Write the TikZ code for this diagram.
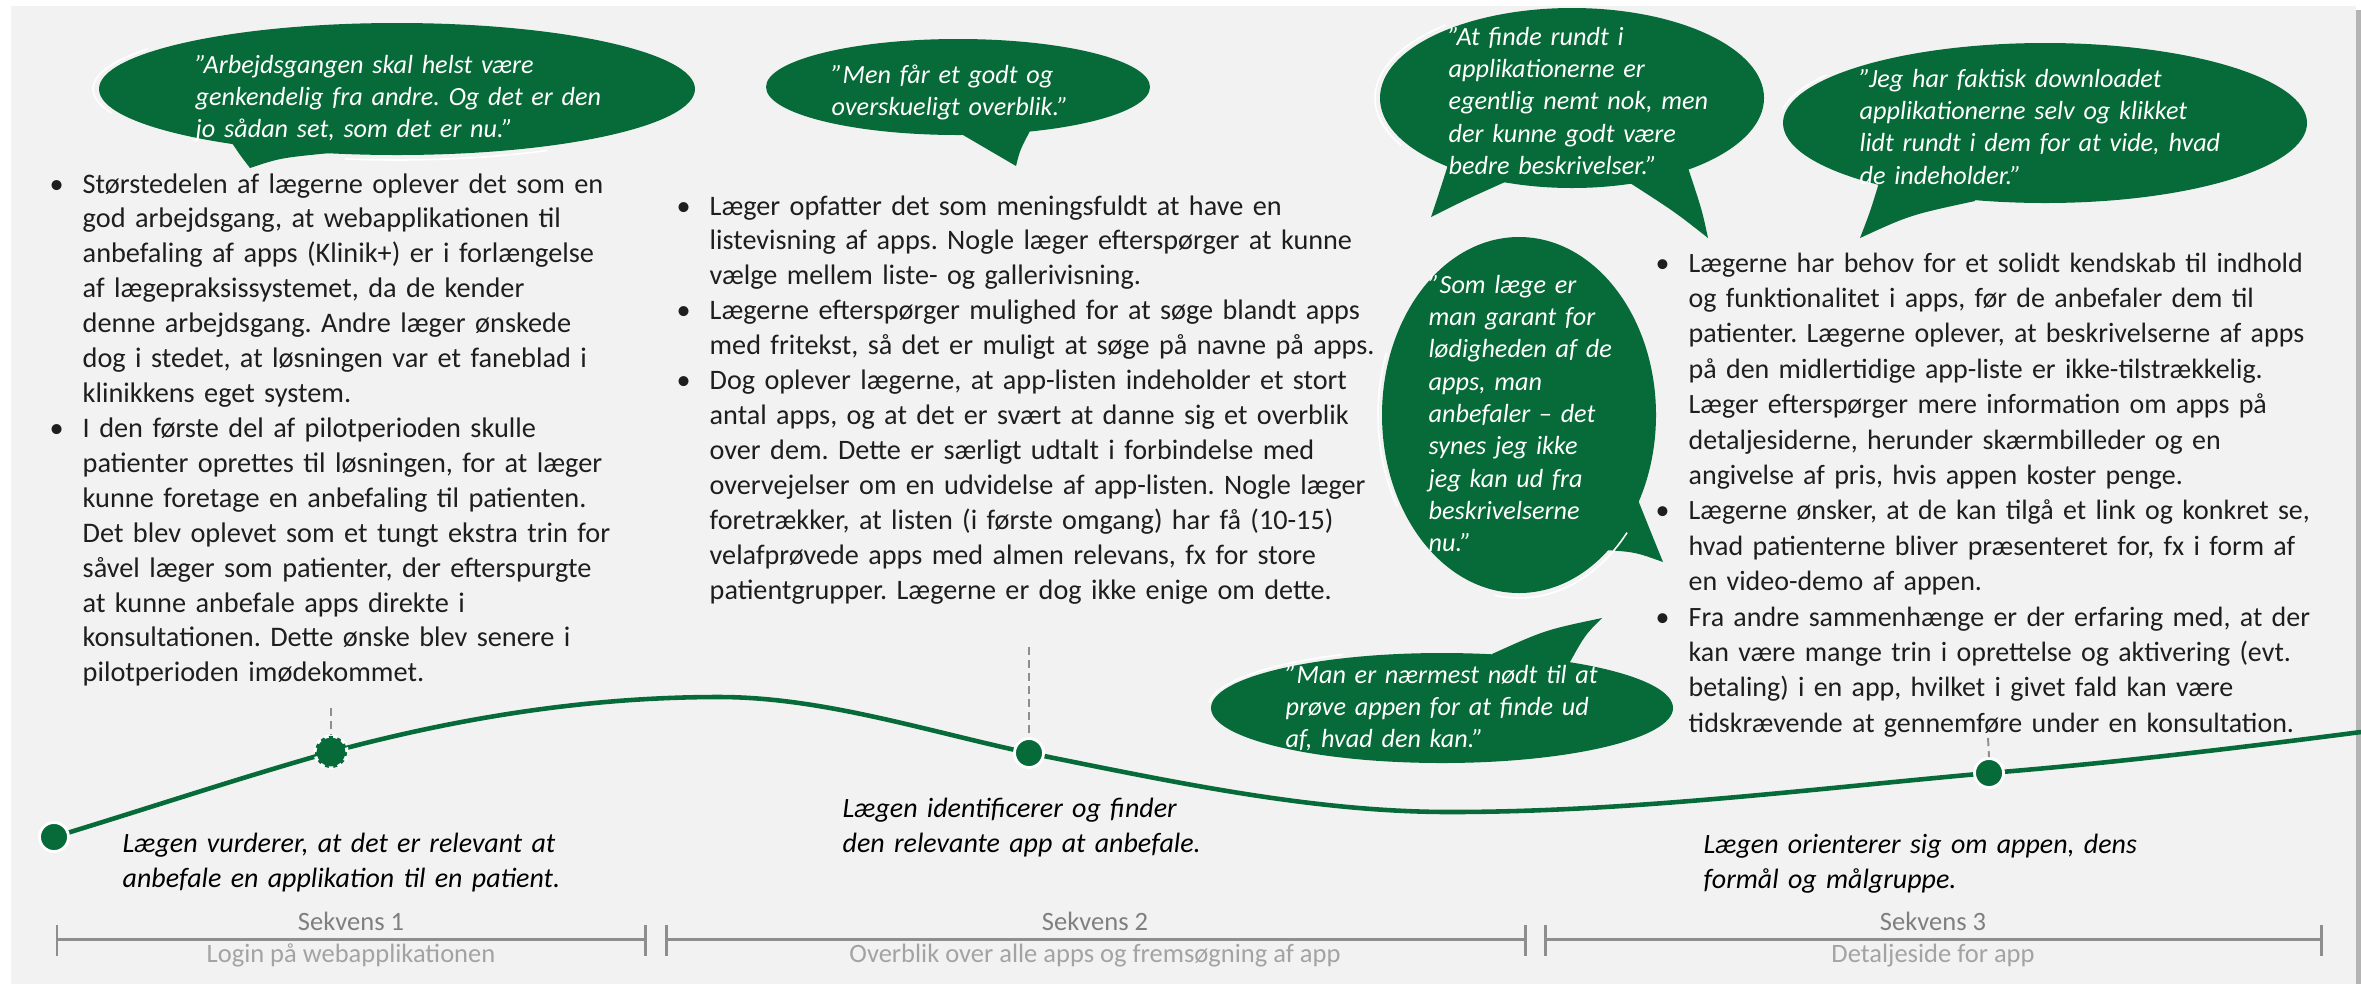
\documentclass[tikz,border=0pt]{standalone}
\usepackage{fontspec}
\setmainfont{Carlito}
\usetikzlibrary{calc}
\definecolor{bggray}{HTML}{F2F2F2}
\definecolor{leaf}{HTML}{066B38}
\definecolor{ink}{HTML}{1E1E1E}
\definecolor{seqdark}{HTML}{7F7F7F}
\definecolor{seqlight}{HTML}{A3A3A3}
\definecolor{rulegray}{HTML}{8E8E8E}
\definecolor{edgeshade}{HTML}{B4B4B4}
\frenchspacing
\newcommand{\leftfont}{\fontsize{8.05pt}{9.93pt}\selectfont\frenchspacing}
\newcommand{\midfont}{\fontsize{8.02pt}{9.93pt}\selectfont\frenchspacing}
\newcommand{\rightfont}{\fontsize{7.95pt}{10.07pt}\selectfont\frenchspacing}
\newcommand{\quotefont}{\fontsize{7.45pt}{9.2pt}\selectfont\itshape\frenchspacing}
\newcommand{\stepfont}{\fontsize{7.95pt}{9.96pt}\selectfont\itshape\frenchspacing}
\newcommand{\seqfont}{\fontsize{7.54pt}{9pt}\selectfont}
\newcommand{\bul}{\leavevmode\llap{\makebox[0pt][c]{•}\hspace{7.4pt}}}
\begin{document}
\begin{tikzpicture}[x=0.01cm, y=-0.01cm,
  bubble/.style={fill=leaf},
  sketchline/.style={draw=white, line width=0.45pt},
  quote/.style={anchor=base west, inner sep=0pt, align=left, text width=6cm, font=\quotefont, text=white},
  bodytext/.style={anchor=base west, inner sep=0pt, align=left, text width=9cm, text=ink},
  steptext/.style={anchor=base west, inner sep=0pt, align=left, text width=8cm, font=\stepfont, text=black},
  journey/.style={draw=leaf, line width=1.3pt},
  dot/.style={circle, fill=leaf, draw=white, line width=0.8pt, minimum size=0.29cm, inner sep=0pt},
  geardot/.style={circle, fill=leaf, draw=white, line width=0.9pt, dash pattern=on 1.3pt off 1.3pt, minimum size=0.32cm, inner sep=0pt},
  guide/.style={draw=rulegray, line width=0.55pt, dash pattern=on 2.3pt off 1.4pt},
  seqbar/.style={draw=rulegray, line width=0.85pt},
  seqtitle/.style={anchor=base, inner sep=0pt, font=\seqfont, text=seqdark},
  seqsub/.style={anchor=base, inner sep=0pt, font=\seqfont, text=seqlight}]

% canvas
\useasboundingbox (0,0) rectangle (2361,984);
\fill[white] (0,0) rectangle (2361,984);
\fill[bggray] (11,6) rectangle (2356,984);
\fill[edgeshade] (2356,10) rectangle (2361,984);

% ---------- speech bubbles ----------
% bubble 1
\coordinate (b1c) at (397,89);
\fill[bubble] (b1c) ellipse[x radius=298, y radius=66];
\fill[bubble] (225,125) -- (232,143) .. controls (240,155) .. (250,168)
  .. controls (280,158) .. (330,153) -- (335,140) -- cycle;
\draw[sketchline] ($(b1c)+(160:304 and 70)$) arc[start angle=160, end angle=215, x radius=304, y radius=70];
\draw[sketchline] ($(b1c)+(100:300 and 71)$) arc[start angle=100, end angle=60, x radius=300, y radius=71];

% bubble 2
\coordinate (b2c) at (958,87);
\fill[bubble] (b2c) ellipse[x radius=192, y radius=48];
\fill[bubble] (960,120) -- (963,135) .. controls (990,150) .. (1016,166)
  .. controls (1020,150) .. (1030,131) -- (1030,115) -- cycle;

% bubble 3
\coordinate (b3c) at (1572,98);
\fill[bubble] (b3c) ellipse[x radius=192, y radius=90];
\fill[bubble] (1450,150) -- (1447,168) .. controls (1440,190) .. (1431,217)
  .. controls (1465,200) .. (1505,182) -- (1505,160) -- cycle;
\fill[bubble] (1630,170) -- (1630,183) .. controls (1675,212) .. (1708,238)
  .. controls (1702,210) .. (1688,168) -- (1680,160) -- cycle;
\draw[sketchline] ($(b3c)+(150:197 and 95)$) arc[start angle=150, end angle=230, x radius=197, y radius=95];

% bubble 4
\coordinate (b4c) at (2045,123);
\fill[bubble] (b4c) ellipse[x radius=262, y radius=80];
\fill[bubble] (1880,175) -- (1878,186) .. controls (1870,212) .. (1860,238)
  .. controls (1910,215) .. (1975,201) -- (1975,185) -- cycle;
\draw[sketchline] ($(b4c)+(190:266 and 84)$) arc[start angle=190, end angle=215, x radius=266, y radius=84];

% bubble 5
\coordinate (b5c) at (1519,415);
\fill[bubble] (b5c) ellipse[x radius=137, y radius=178];
\fill[bubble] (1620,495) -- (1638,500) .. controls (1650,530) .. (1663,562)
  .. controls (1635,552) .. (1605,550) -- (1600,530) -- cycle;
\draw[sketchline] ($(b5c)+(100:141 and 183)$) arc[start angle=100, end angle=40, x radius=141, y radius=183];
\draw[sketchline] ($(b5c)+(200:141 and 182)$) arc[start angle=200, end angle=150, x radius=141, y radius=182];

% bubble 6
\coordinate (b6c) at (1442,708);
\fill[bubble] (b6c) ellipse[x radius=231, y radius=55];
\fill[bubble] (1492,670) -- (1492,654) .. controls (1545,630) .. (1602,618)
  .. controls (1585,635) .. (1570,662) -- (1565,675) -- cycle;
\draw[sketchline] ($(b6c)+(185:234 and 59)$) arc[start angle=185, end angle=245, x radius=234, y radius=59];

% ---------- quotes ----------
\node[quote] (q1) at (195,73) {”Arbejdsgangen skal helst være\\genkendelig fra andre. Og det er den\\jo sådan set, som det er nu.”};
\node[quote] (q2) at (831,83) {”Men får et godt og\\overskueligt overblik.”};
\node[quote] (q3) at (1448,45) {”At finde rundt i\\applikationerne er\\egentlig nemt nok, men\\der kunne godt være\\bedre beskrivelser.”};
\node[quote] (q4) at (1859,87) {”Jeg har faktisk downloadet\\applikationerne selv og klikket\\lidt rundt i dem for at vide, hvad\\de indeholder.”};
\node[quote] (q5) at (1428,293) {”Som læge er\\man garant for\\lødigheden af de\\apps, man\\anbefaler – det\\synes jeg ikke\\jeg kan ud fra\\beskrivelserne\\nu.”};
\node[quote] (q6) at (1285,683) {”Man er nærmest nødt til at\\prøve appen for at finde ud\\af, hvad den kan.”};

% ---------- findings ----------
\node[bodytext, font=\leftfont] (f1) at (82,193) {\bul Størstedelen af lægerne oplever det som en\\
god arbejdsgang, at webapplikationen til\\
anbefaling af apps (Klinik+) er i forlængelse\\
af lægepraksissystemet, da de kender\\
denne arbejdsgang. Andre læger ønskede\\
dog i stedet, at løsningen var et faneblad i\\
klinikkens eget system.\\
\bul I den første del af pilotperioden skulle\\
patienter oprettes til løsningen, for at læger\\
kunne foretage en anbefaling til patienten.\\
Det blev oplevet som et tungt ekstra trin for\\
såvel læger som patienter, der efterspurgte\\
at kunne anbefale apps direkte i\\
konsultationen. Dette ønske blev senere i\\
pilotperioden imødekommet.};

\node[bodytext, font=\midfont] (f2) at (709,215) {\bul Læger opfatter det som meningsfuldt at have en\\
listevisning af apps. Nogle læger efterspørger at kunne\\
vælge mellem liste- og gallerivisning.\\
\bul Lægerne efterspørger mulighed for at søge blandt apps\\
med fritekst, så det er muligt at søge på navne på apps.\\
\bul Dog oplever lægerne, at app-listen indeholder et stort\\
antal apps, og at det er svært at danne sig et overblik\\
over dem. Dette er særligt udtalt i forbindelse med\\
overvejelser om en udvidelse af app-listen. Nogle læger\\
foretrækker, at listen (i første omgang) har få (10-15)\\
velafprøvede apps med almen relevans, fx for store\\
patientgrupper. Lægerne er dog ikke enige om dette.};

\node[bodytext, font=\rightfont] (f3) at (1688,272) {\bul Lægerne har behov for et solidt kendskab til indhold\\
og funktionalitet i apps, før de anbefaler dem til\\
patienter. Lægerne oplever, at beskrivelserne af apps\\
på den midlertidige app-liste er ikke-tilstrækkelig.\\
Læger efterspørger mere information om apps på\\
detaljesiderne, herunder skærmbilleder og en\\
angivelse af pris, hvis appen koster penge.\\
\bul Lægerne ønsker, at de kan tilgå et link og konkret se,\\
hvad patienterne bliver præsenteret for, fx i form af\\
en video-demo af appen.\\
\bul Fra andre sammenhænge er der erfaring med, at der\\
kan være mange trin i oprettelse og aktivering (evt.\\
betaling) i en app, hvilket i givet fald kan være\\
tidskrævende at gennemføre under en konsultation.};

% ---------- journey line ----------
\coordinate (p0) at (54,837);
\coordinate (p1) at (331,752);
\coordinate (pk) at (719,697);
\coordinate (p2) at (1029,753);
\coordinate (tr) at (1450,812);
\coordinate (p3) at (1989,773);
\coordinate (pe) at (2361,732);
\draw[journey] (p0) .. controls (146,809) and (239,778) .. (p1)
  .. controls (461,717) and (589,697) .. (pk)
  .. controls (822,697) and (926,731) .. (p2)
  .. controls (1169,781) and (1310,812) .. (tr)
  .. controls (1630,812) and (1810,789) .. (p3)
  .. controls (2113,763) and (2237,748) .. (pe);

\node[dot] (d0) at (p0) {};
\node[geardot] (d1) at (p1) {};
\node[dot] (d2) at (p2) {};
\node[dot] (d3) at (p3) {};

\coordinate (g1) at (331,708);
\coordinate (g2) at (1029,647);
\coordinate (g3) at (1988,738);
\draw[guide] (g1) -- (d1.north);
\draw[guide] (g2) -- (d2.north);
\draw[guide] (g3) -- (d3.north);

% ---------- step descriptions ----------
\node[steptext] (t1) at (122,852) {Lægen vurderer, at det er relevant at\\anbefale en applikation til en patient.};
\node[steptext] (t2) at (842,817) {Lægen identificerer og finder\\den relevante app at anbefale.};
\node[steptext] (t3) at (1703,853) {Lægen orienterer sig om appen, dens\\formål og målgruppe.};

% ---------- sequence brackets ----------
\coordinate (s1a) at (57,939);   \coordinate (s1b) at (645,939);
\coordinate (s2a) at (666,939);  \coordinate (s2b) at (1525,939);
\coordinate (s3a) at (1545,939); \coordinate (s3b) at (2321,939);
\draw[seqbar] (s1a) -- (s1b);
\draw[seqbar] (s2a) -- (s2b);
\draw[seqbar] (s3a) -- (s3b);
\foreach \p in {s1a,s1b,s2a,s2b,s3a,s3b}
  \draw[seqbar] ($(\p)+(0,-14)$) -- ($(\p)+(0,17)$);

\node[seqtitle] (k1) at (351,930) {Sekvens 1};
\node[seqsub] (k1s) at (351,962) {Login på webapplikationen};
\node[seqtitle] (k2) at (1095,930) {Sekvens 2};
\node[seqsub] (k2s) at (1095,962) {Overblik over alle apps og fremsøgning af app};
\node[seqtitle] (k3) at (1933,930) {Sekvens 3};
\node[seqsub] (k3s) at (1933,962) {Detaljeside for app};
\end{tikzpicture}
\end{document}
